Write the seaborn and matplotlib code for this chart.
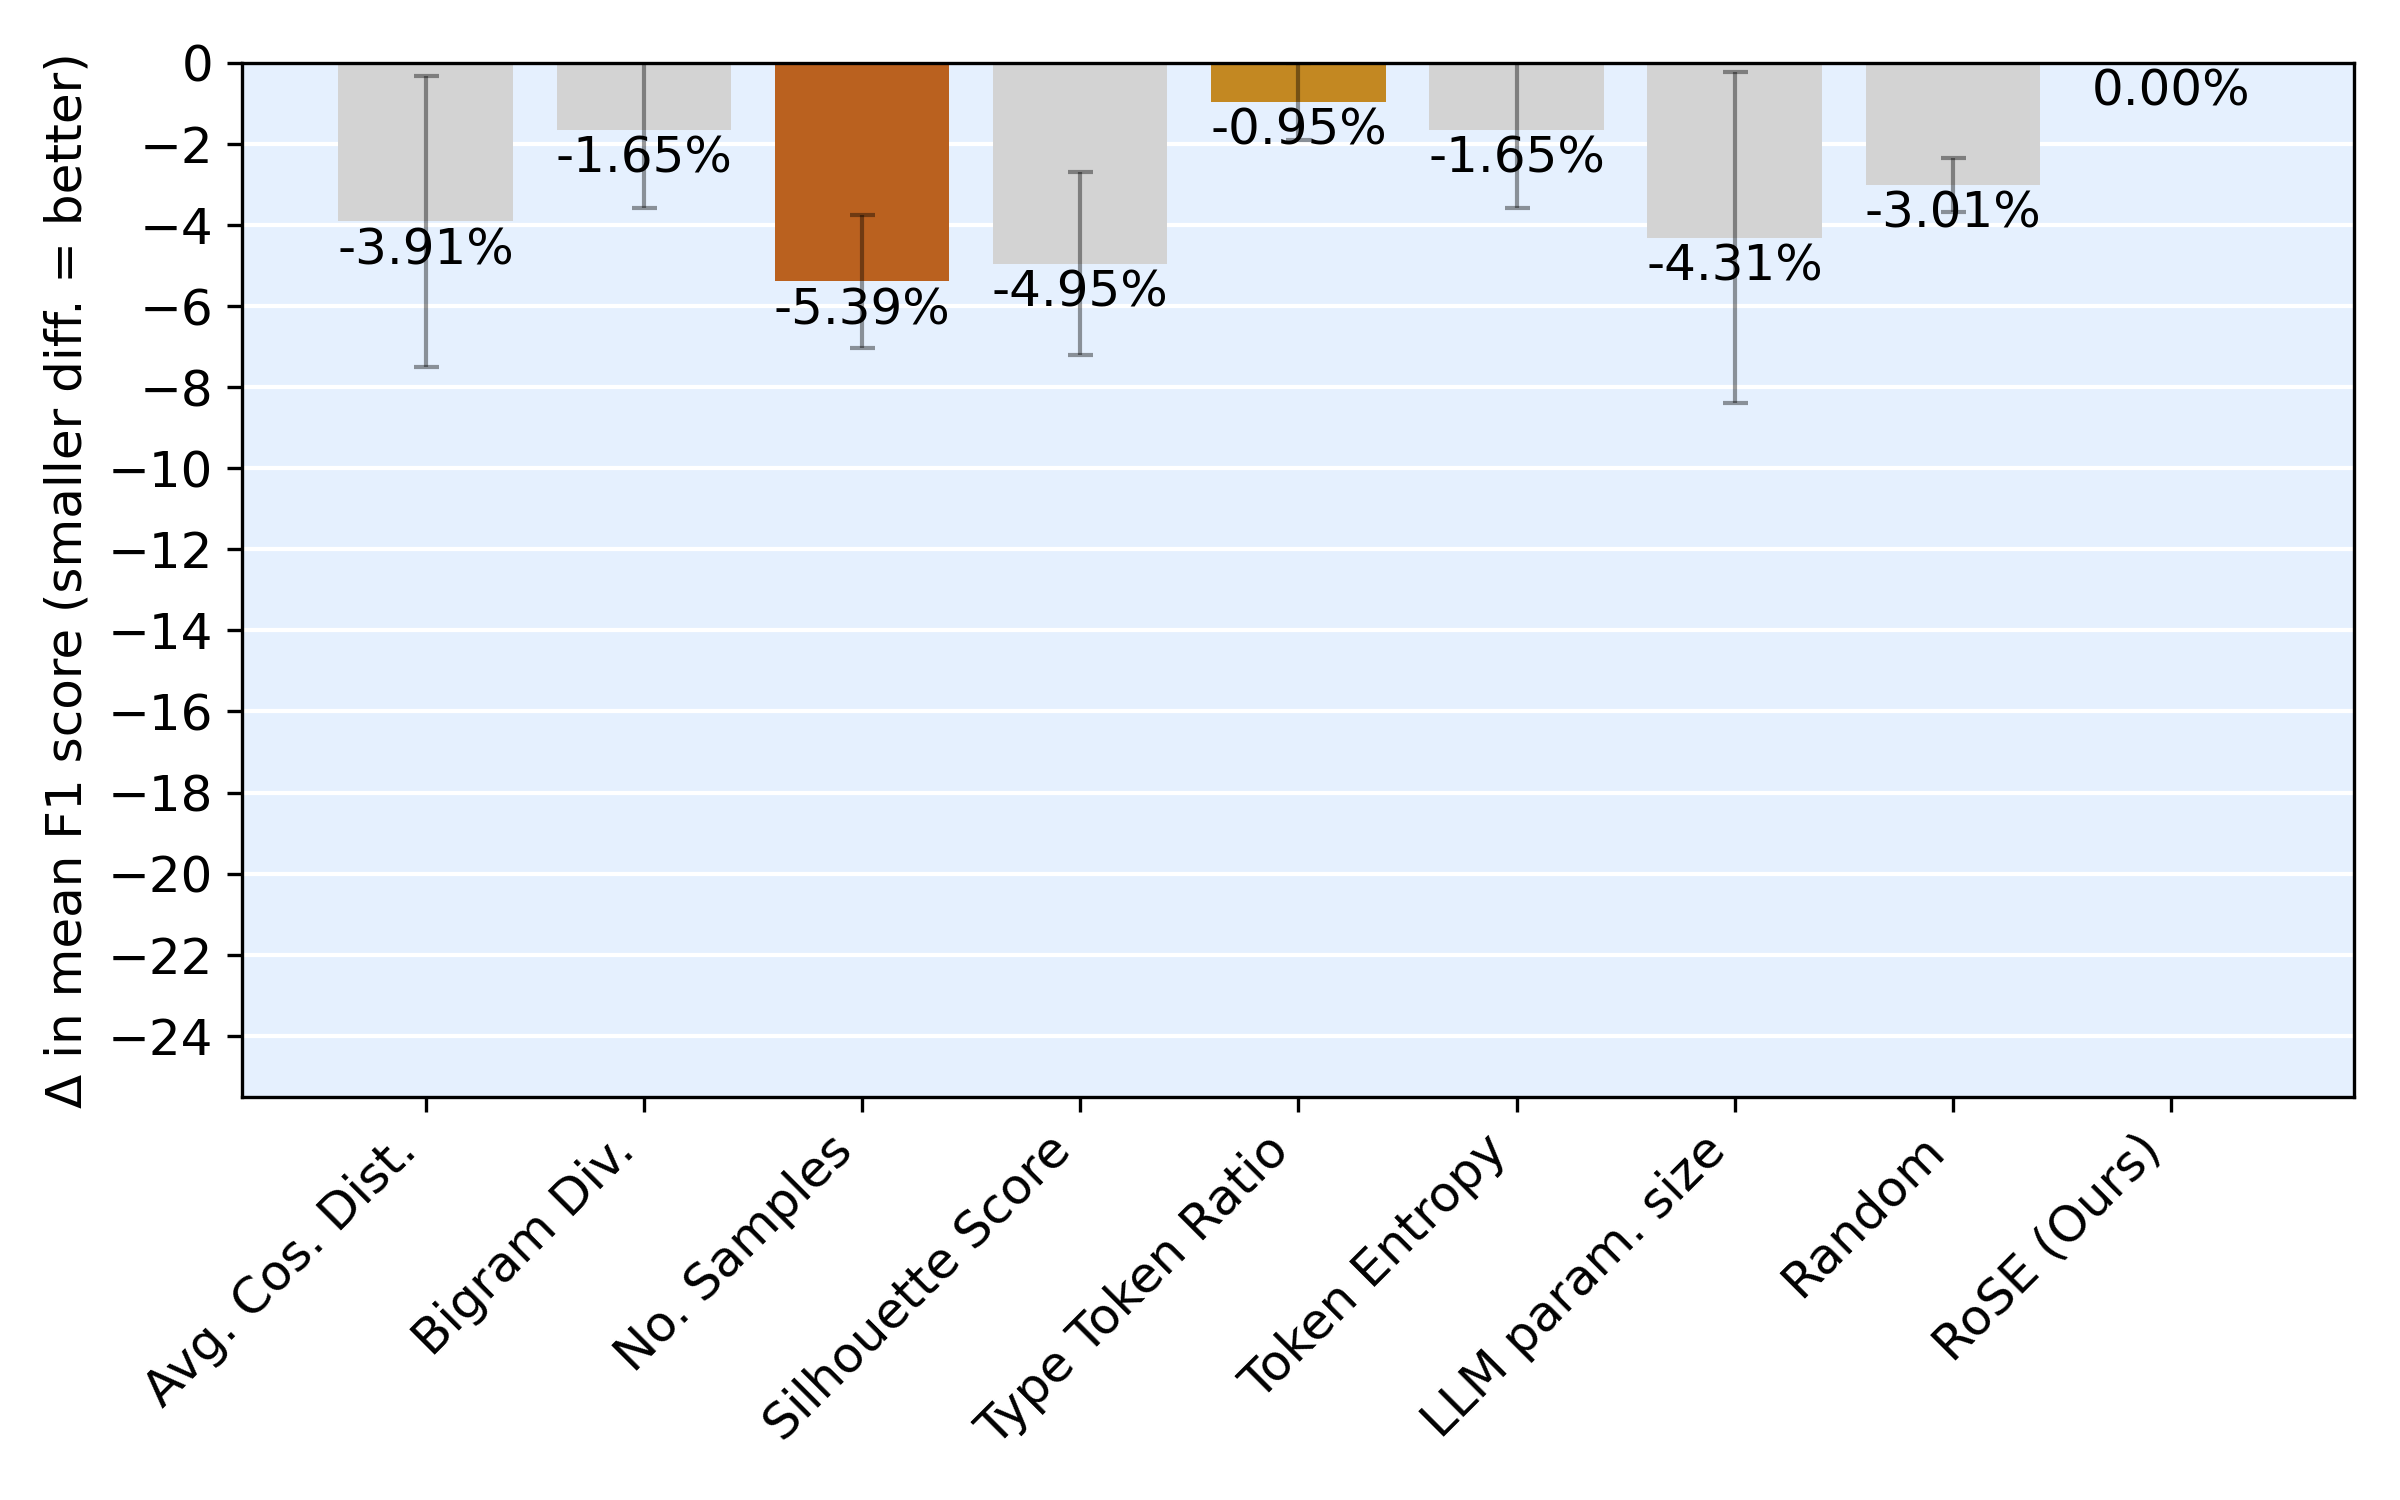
import numpy as np
import seaborn as sns
import matplotlib.pyplot as plt

# Data
methods = ['Avg. Cos. Dist.', 'Bigram Div.', 'No. Samples', 'Silhouette Score',
           'Type Token Ratio', 'Token Entropy', 'LLM param. size', 'Random',
           'RoSE (Ours)']
delta_f1 = [-3.91, -1.65, -5.39, -4.95, -0.95, -1.65, -4.31, -3.01, 0.00]
delta_err = [3.60, 1.93, 1.63, 2.25, 0.95, 1.93, 4.08, 0.67, np.nan]
bar_colors = ['#d3d3d3', '#d3d3d3', '#ba611f', '#d3d3d3', '#c38822',
              '#d3d3d3', '#d3d3d3', '#d3d3d3', '#d3d3d3']

plt.rcParams['font.size'] = 12

fig, ax = plt.subplots(figsize=(8, 5), dpi=300)
ax.set_facecolor('#e5f0fe')
ax.set_axisbelow(True)
ax.yaxis.grid(True, color='white', linewidth=1)

sns.barplot(x=methods, y=delta_f1, hue=methods, palette=bar_colors,
            saturation=1, width=0.8, linewidth=0, legend=False, ax=ax)

# Error bars (last one has none)
x_pos = np.arange(len(methods))
ax.errorbar(x_pos, delta_f1, yerr=delta_err, fmt='none', ecolor='black',
            elinewidth=1, capsize=3, alpha=0.4)

# Value labels just under each bar end
for i, v in enumerate(delta_f1):
    ax.text(i, v - 0.12, f'{v:.2f}%', ha='center', va='top', fontsize=12)

ax.set_xlim(-0.84, len(methods) - 0.16)
ax.set_ylim(-25.5, 0)
ax.set_yticks(np.arange(-24, 1, 2))
ax.set_ylabel('Δ in mean F1 score (smaller diff. = better)')
ax.set_xticks(x_pos)
ax.set_xticklabels(methods, rotation=45, ha='right')

fig.subplots_adjust(left=0.101, right=0.981, top=0.958, bottom=0.269)
fig.savefig('out.png', dpi=300)
